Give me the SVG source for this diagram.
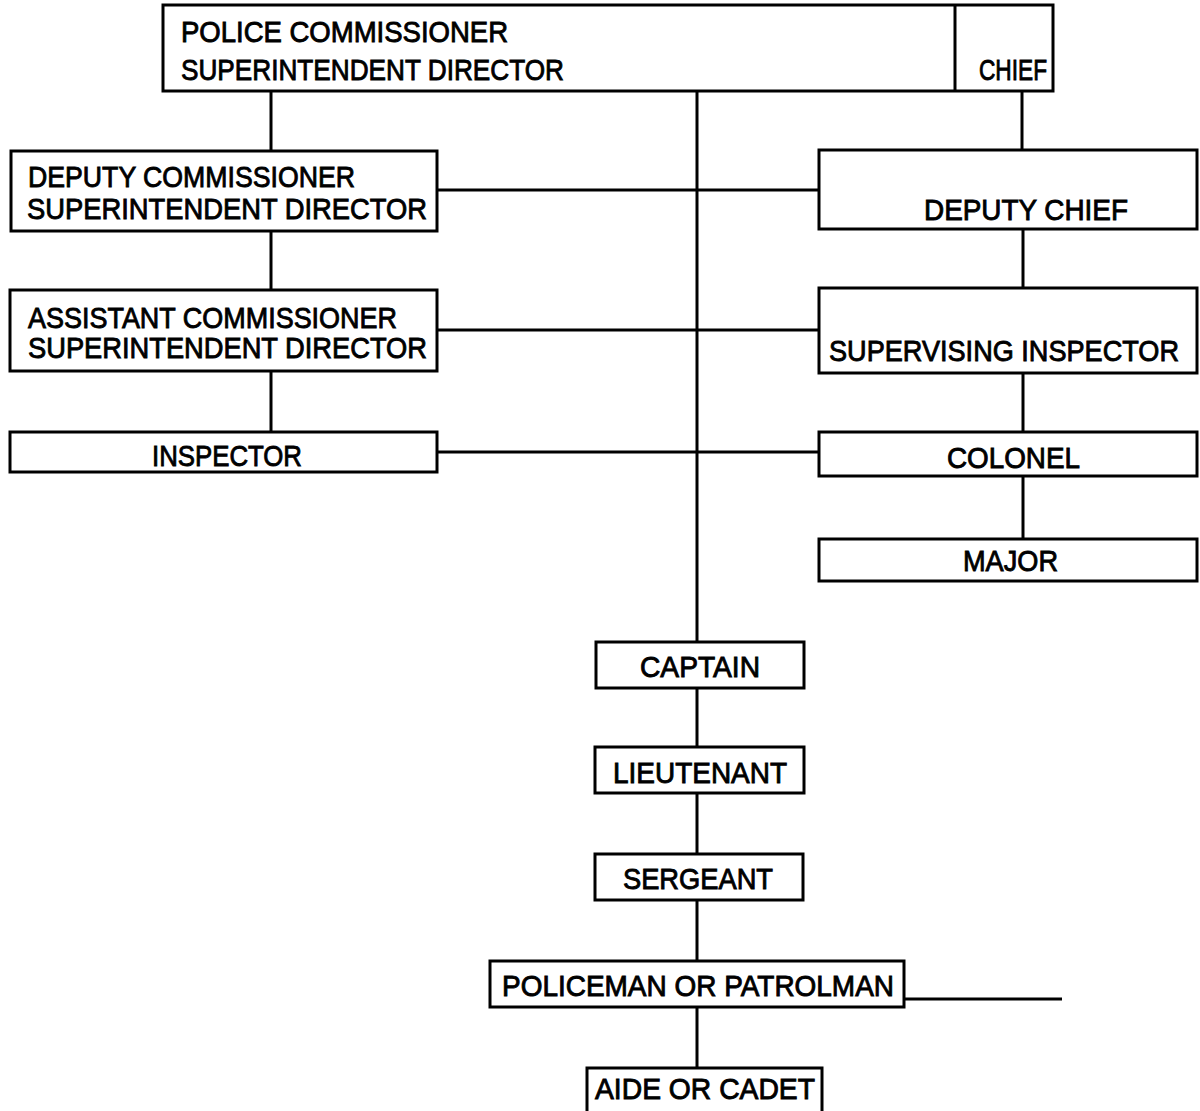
<svg xmlns="http://www.w3.org/2000/svg" width="1200" height="1111" viewBox="0 0 1200 1111">
<style>
.box{fill:#fff;stroke:#000;stroke-width:3}
.ln{stroke:#000;stroke-width:3;fill:none}
text{font-family:"Liberation Sans",Arial,sans-serif;font-size:30px;fill:#000;stroke:#000;stroke-width:0.9}
</style>
<rect width="1200" height="1111" fill="#fff"/>
<g id="connectors">
<line class="ln" x1="697" y1="91" x2="697" y2="1068"/>
<line class="ln" x1="271" y1="91" x2="271" y2="151"/>
<line class="ln" x1="1022" y1="91" x2="1022" y2="151"/>
<line class="ln" x1="271" y1="231" x2="271" y2="290"/>
<line class="ln" x1="271" y1="371" x2="271" y2="432"/>
<line class="ln" x1="1023" y1="229" x2="1023" y2="288"/>
<line class="ln" x1="1023" y1="373" x2="1023" y2="432"/>
<line class="ln" x1="1023" y1="476" x2="1023" y2="539"/>
<line class="ln" x1="437" y1="190" x2="819" y2="190"/>
<line class="ln" x1="437" y1="330" x2="819" y2="330"/>
<line class="ln" x1="437" y1="452" x2="819" y2="452"/>
<line class="ln" x1="904" y1="999" x2="1062" y2="999"/>
</g>
<g id="police-commissioner">
<rect class="box" x="163" y="5" width="890" height="86"/>
<line class="ln" x1="955" y1="5" x2="955" y2="91"/>
<text x="181" y="42" textLength="327" lengthAdjust="spacingAndGlyphs">POLICE COMMISSIONER</text>
<text x="181" y="80" textLength="383" lengthAdjust="spacingAndGlyphs">SUPERINTENDENT DIRECTOR</text>
</g>
<g id="chief">
<text x="979" y="80" textLength="68" lengthAdjust="spacingAndGlyphs">CHIEF</text>
</g>
<g id="deputy-commissioner">
<rect class="box" x="11" y="151" width="426" height="80"/>
<text x="28" y="187" textLength="327" lengthAdjust="spacingAndGlyphs">DEPUTY COMMISSIONER</text>
<text x="27" y="219" textLength="400" lengthAdjust="spacingAndGlyphs">SUPERINTENDENT DIRECTOR</text>
</g>
<g id="deputy-chief">
<rect class="box" x="819" y="150" width="378" height="79"/>
<text x="924" y="220" textLength="204" lengthAdjust="spacingAndGlyphs">DEPUTY CHIEF</text>
</g>
<g id="assistant-commissioner">
<rect class="box" x="10" y="290" width="427" height="81"/>
<text x="28" y="328" textLength="369" lengthAdjust="spacingAndGlyphs">ASSISTANT COMMISSIONER</text>
<text x="28" y="358" textLength="399" lengthAdjust="spacingAndGlyphs">SUPERINTENDENT DIRECTOR</text>
</g>
<g id="supervising-inspector">
<rect class="box" x="819" y="288" width="378" height="85"/>
<text x="829" y="361" font-size="27" textLength="350" lengthAdjust="spacingAndGlyphs">SUPERVISING INSPECTOR</text>
</g>
<g id="inspector">
<rect class="box" x="10" y="432" width="427" height="40"/>
<text x="152" y="466" textLength="150" lengthAdjust="spacingAndGlyphs">INSPECTOR</text>
</g>
<g id="colonel">
<rect class="box" x="819" y="432" width="378" height="44"/>
<text x="947" y="468" textLength="133" lengthAdjust="spacingAndGlyphs">COLONEL</text>
</g>
<g id="major">
<rect class="box" x="819" y="539" width="378" height="42"/>
<text x="963" y="571" textLength="95" lengthAdjust="spacingAndGlyphs">MAJOR</text>
</g>
<g id="captain">
<rect class="box" x="596" y="642" width="208" height="46"/>
<text x="640" y="677" textLength="120" lengthAdjust="spacingAndGlyphs">CAPTAIN</text>
</g>
<g id="lieutenant">
<rect class="box" x="595" y="747" width="209" height="46"/>
<text x="613" y="783" textLength="174" lengthAdjust="spacingAndGlyphs">LIEUTENANT</text>
</g>
<g id="sergeant">
<rect class="box" x="595" y="854" width="208" height="46"/>
<text x="623" y="889" textLength="150" lengthAdjust="spacingAndGlyphs">SERGEANT</text>
</g>
<g id="policeman">
<rect class="box" x="490" y="961" width="414" height="46"/>
<text x="502" y="996" textLength="392" lengthAdjust="spacingAndGlyphs">POLICEMAN OR PATROLMAN</text>
</g>
<g id="aide">
<rect class="box" x="587" y="1068" width="235" height="60"/>
<text x="595" y="1099" textLength="220" lengthAdjust="spacingAndGlyphs">AIDE OR CADET</text>
</g>
</svg>
